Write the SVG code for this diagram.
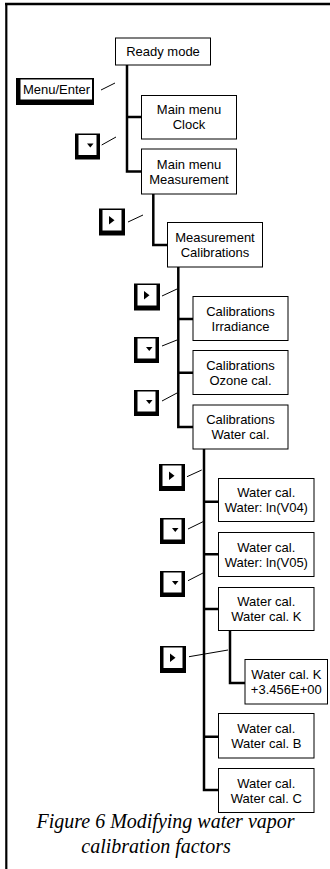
<svg xmlns="http://www.w3.org/2000/svg" xmlns:xlink="http://www.w3.org/1999/xlink" width="330" height="869" viewBox="0 0 330 869">
<style>
.box{fill:#fff;stroke:#000;stroke-width:1}
.t{font-family:"Liberation Sans",Arial,sans-serif;font-size:13px;fill:#000;text-anchor:middle}
.conn{fill:none;stroke:#000;stroke-width:2.5}
.sl{stroke:#000;stroke-width:1}
.cap{font-family:"Liberation Serif","Times New Roman",serif;font-style:italic;font-size:20px;fill:#000;text-anchor:middle}
</style>
<defs>
<g id="btnDown"><rect x="0" y="0" width="25" height="26" fill="#000"/><rect x="3.5" y="1.5" width="18" height="20" fill="#fff"/><polygon points="12,10 18.5,10 15.25,14" fill="#000"/></g>
<g id="btnRight"><rect x="0" y="0" width="26" height="27" fill="#000"/><rect x="3.5" y="1.5" width="19" height="20.5" fill="#fff"/><polygon points="10,7.5 10,16 15.5,11.75" fill="#000"/></g>
</defs>
<rect width="330" height="869" fill="#fff"/>
<g id="frame">
<line x1="5" y1="4" x2="330" y2="4" stroke="#000" stroke-width="2.5"/>
<line x1="6.3" y1="3" x2="6.3" y2="869" stroke="#000" stroke-width="2.2"/>
</g>
<g id="connectors">
<path class="conn" d="M127,65 V171.5 H141.5 M127,117 H141.5"/>
<path class="conn" d="M153.3,194 V245 H167.5"/>
<path class="conn" d="M178.3,267 V427 H193 M178.3,319 H193 M178.3,372.7 H193"/>
<path class="conn" d="M204,449 V790 H218.5 M204,501.7 H218.5 M204,554.3 H218.5 M204,609 H218.5 M204,736.7 H218.5"/>
<path class="conn" d="M230,630.7 V683 H245"/>
<line class="sl" x1="101" y1="90" x2="115" y2="83"/>
<line class="sl" x1="101.7" y1="145" x2="116" y2="137"/>
<line class="sl" x1="128" y1="222" x2="143" y2="215"/>
<line class="sl" x1="162" y1="296" x2="177" y2="289"/>
<line class="sl" x1="162" y1="346" x2="177" y2="340"/>
<line class="sl" x1="162" y1="401" x2="177" y2="393"/>
<line class="sl" x1="187" y1="476.7" x2="201.7" y2="470"/>
<line class="sl" x1="188" y1="529" x2="203" y2="521.7"/>
<line class="sl" x1="188" y1="580.7" x2="203" y2="573"/>
<line class="sl" x1="189" y1="656.7" x2="228" y2="650"/>
</g>
<g id="btn-menu-enter">
<rect x="16" y="78" width="78" height="27" fill="#000"/>
<rect x="20.5" y="79.5" width="71.5" height="20" fill="#fff"/>
<text class="t" x="56.5" y="93.8">Menu/Enter</text>
</g>
<g id="btn-down-1"><use xlink:href="#btnDown" x="75" y="133.5"/></g>
<g id="btn-right-1"><use xlink:href="#btnRight" x="99" y="208.5"/></g>
<g id="btn-right-2"><use xlink:href="#btnRight" x="134" y="283.5"/></g>
<g id="btn-down-2"><use xlink:href="#btnDown" x="134" y="337"/></g>
<g id="btn-down-3"><use xlink:href="#btnDown" x="134" y="390"/></g>
<g id="btn-right-3"><use xlink:href="#btnRight" x="159" y="464"/></g>
<g id="btn-down-4"><use xlink:href="#btnDown" x="160" y="518"/></g>
<g id="btn-down-5"><use xlink:href="#btnDown" x="160" y="571"/></g>
<g id="btn-right-4"><use xlink:href="#btnRight" x="160" y="646"/></g>
<g id="ready-mode"><rect class="box" x="115.5" y="38" width="95" height="27"/><text class="t" x="163" y="56.2">Ready mode</text></g>
<g id="main-clock"><rect class="box" x="141.5" y="95.5" width="95" height="43.5"/><text class="t" x="189" y="114">Main menu</text><text class="t" x="189" y="129">Clock</text></g>
<g id="main-measurement"><rect class="box" x="141.5" y="149" width="95" height="45"/><text class="t" x="189" y="168.5">Main menu</text><text class="t" x="189" y="183.5">Measurement</text></g>
<g id="meas-calibrations"><rect class="box" x="167.5" y="222.5" width="95" height="44.5"/><text class="t" x="215" y="241.8">Measurement</text><text class="t" x="215" y="256.8">Calibrations</text></g>
<g id="cal-irradiance"><rect class="box" x="193" y="296.5" width="95" height="44"/><text class="t" x="240.5" y="315.5">Calibrations</text><text class="t" x="240.5" y="330.5">Irradiance</text></g>
<g id="cal-ozone"><rect class="box" x="193" y="350.5" width="95" height="44"/><text class="t" x="240.5" y="369.5">Calibrations</text><text class="t" x="240.5" y="384.5">Ozone cal.</text></g>
<g id="cal-water"><rect class="box" x="193" y="405" width="95" height="44"/><text class="t" x="240.5" y="424">Calibrations</text><text class="t" x="240.5" y="439">Water cal.</text></g>
<g id="water-v04"><rect class="box" x="218.5" y="478.5" width="95.5" height="43"/><text class="t" x="266.3" y="497">Water cal.</text><text class="t" x="266.3" y="512">Water: ln(V04)</text></g>
<g id="water-v05"><rect class="box" x="218.5" y="532.5" width="95.5" height="44"/><text class="t" x="266.3" y="551.5">Water cal.</text><text class="t" x="266.3" y="566.5">Water: ln(V05)</text></g>
<g id="water-k"><rect class="box" x="218.5" y="587.5" width="95.5" height="43"/><text class="t" x="266.3" y="606">Water cal.</text><text class="t" x="266.3" y="621">Water cal. K</text></g>
<g id="water-k-value"><rect class="box" x="245" y="659.5" width="82.5" height="44.5"/><text class="t" x="286.3" y="678.8">Water cal. K</text><text class="t" x="286.3" y="693.8">+3.456E+00</text></g>
<g id="water-b"><rect class="box" x="218.5" y="713.5" width="95.5" height="44.5"/><text class="t" x="266.3" y="732.8">Water cal.</text><text class="t" x="266.3" y="747.8">Water cal. B</text></g>
<g id="water-c"><rect class="box" x="218.5" y="768.5" width="95.5" height="44"/><text class="t" x="266.3" y="787.5">Water cal.</text><text class="t" x="266.3" y="802.5">Water cal. C</text></g>
<g id="caption">
<text class="cap" x="165.5" y="827.7">Figure 6 Modifying water vapor</text>
<text class="cap" x="156" y="853">calibration factors</text>
</g>
</svg>
